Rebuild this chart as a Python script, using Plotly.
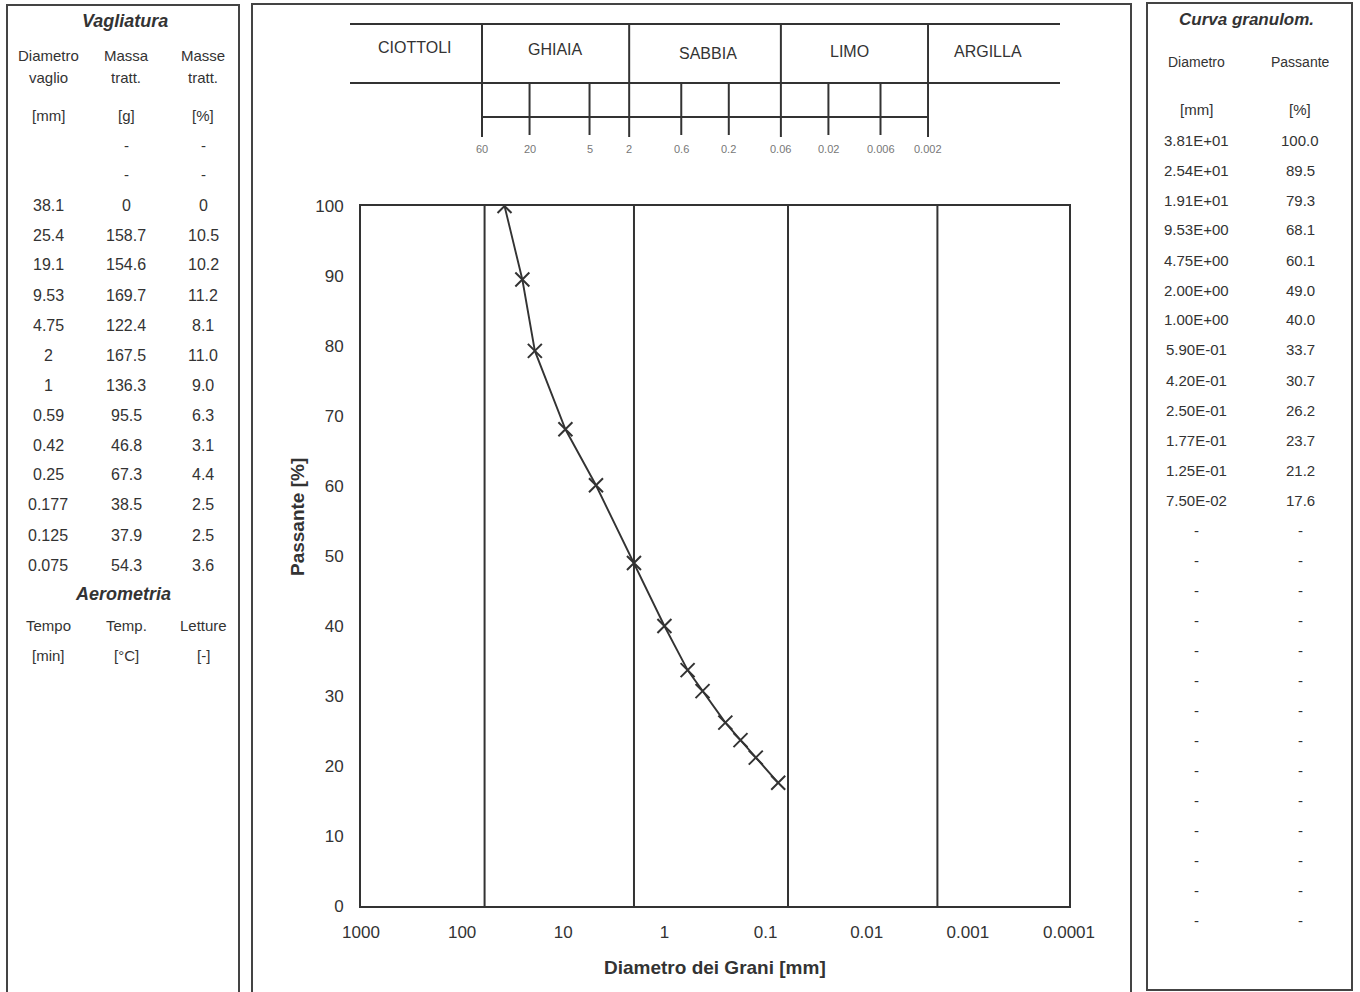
import math
import plotly.graph_objects as go

# ---------------- data ----------------
sieve_mm = ["38.1", "25.4", "19.1", "9.53", "4.75", "2", "1", "0.59", "0.42", "0.25", "0.177", "0.125", "0.075"]
mass_g = [0, 158.7, 154.6, 169.7, 122.4, 167.5, 136.3, 95.5, 46.8, 67.3, 38.5, 37.9, 54.3]
mass_pct = [0, 10.5, 10.2, 11.2, 8.1, 11.0, 9.0, 6.3, 3.1, 4.4, 2.5, 2.5, 3.6]

diam_mm = [38.1, 25.4, 19.1, 9.53, 4.75, 2.00, 1.00, 0.59, 0.42, 0.25, 0.177, 0.125, 0.075]
passing_pct = [100.0, 89.5, 79.3, 68.1, 60.1, 49.0, 40.0, 33.7, 30.7, 26.2, 23.7, 21.2, 17.6]

x_tickvals = [1000, 100, 10, 1, 0.1, 0.01, 0.001, 0.0001]
x_ticktext = ["1000", "100", "10", "1", "0.1", "0.01", "0.001", "0.0001"]
y_tickvals = [0, 10, 20, 30, 40, 50, 60, 70, 80, 90, 100]

class_limits = [60, 2, 0.06, 0.002]
class_names = ["CIOTTOLI", "GHIAIA", "SABBIA", "LIMO", "ARGILLA"]
sub_ticks = [60, 20, 5, 2, 0.6, 0.2, 0.06, 0.02, 0.006, 0.002]
sub_tick_labels = ["60", "20", "5", "2", "0.6", "0.2", "0.06", "0.02", "0.006", "0.002"]

W, H = 1360, 992
FONT = "Liberation Sans, Arial, sans-serif"
INK = "#333333"


def px(x):
    return x / W


def py(y):
    return 1 - y / H


fig = go.Figure()

fig.add_trace(go.Scatter(
    x=diam_mm, y=passing_pct, mode="lines+markers",
    line=dict(color=INK, width=1.9),
    marker=dict(symbol="x-thin", size=14, line=dict(color=INK, width=2), color=INK),
    showlegend=False, hoverinfo="x+y",
))
# invisible trace to instantiate the header scale axis
fig.add_trace(go.Scatter(x=[1], y=[0], xaxis="x2", yaxis="y", mode="markers",
                         marker=dict(opacity=0), showlegend=False, hoverinfo="skip"))

shapes = []
annotations = []

# panel borders
for (x0, y0, x1, y1) in [(7, 5, 239, 1000), (252, 4, 1131, 1000), (1147, 3, 1352, 990)]:
    shapes.append(dict(type="rect", xref="paper", yref="paper",
                       x0=px(x0), x1=px(x1), y0=py(y1), y1=py(y0),
                       line=dict(color="#444", width=2)))

# vertical class limits in the plot
for v in class_limits:
    shapes.append(dict(type="line", xref="x", yref="y", x0=v, x1=v, y0=0, y1=100,
                       line=dict(color=INK, width=2)))

# header table (classification)
shapes.append(dict(type="line", xref="paper", yref="paper", x0=px(350), x1=px(1060),
                   y0=py(24), y1=py(24), line=dict(color=INK, width=2)))
shapes.append(dict(type="line", xref="paper", yref="paper", x0=px(350), x1=px(1060),
                   y0=py(83), y1=py(83), line=dict(color=INK, width=2)))
shapes.append(dict(type="line", xref="x2", yref="paper", x0=class_limits[0], x1=class_limits[-1],
                   y0=py(117), y1=py(117), line=dict(color=INK, width=2)))
for v in class_limits:
    shapes.append(dict(type="line", xref="x2", yref="paper", x0=v, x1=v,
                       y0=py(137), y1=py(24), line=dict(color=INK, width=2)))
for v in sub_ticks:
    if v not in class_limits:
        shapes.append(dict(type="line", xref="x2", yref="paper", x0=v, x1=v,
                           y0=py(135), y1=py(83), line=dict(color=INK, width=2)))
for v, t in zip(sub_ticks, sub_tick_labels):
    annotations.append(dict(x=math.log10(v), xref="x2", y=py(149), yref="paper", text=t,
                            showarrow=False, xanchor="center", yanchor="middle",
                            font=dict(family=FONT, size=11, color="#777")))

name_pos = [(415, 48), (555, 49), (708, 53), (849, 52), (988, 52)]
for name, (xx, yy) in zip(class_names, name_pos):
    annotations.append(dict(x=px(xx), y=py(yy), xref="paper", yref="paper", text=name,
                            showarrow=False, xanchor="center", yanchor="middle",
                            font=dict(family=FONT, size=16, color=INK)))

# axis titles
annotations.append(dict(x=px(715), y=py(967), xref="paper", yref="paper",
                        text="<b>Diametro dei Grani [mm]</b>", showarrow=False,
                        xanchor="center", yanchor="middle",
                        font=dict(family=FONT, size=19, color=INK)))
annotations.append(dict(x=px(297), y=py(517), xref="paper", yref="paper",
                        text="<b>Passante [%]</b>", showarrow=False, textangle=-90,
                        xanchor="center", yanchor="middle",
                        font=dict(family=FONT, size=19, color=INK)))


def txt(x, y, s, size=16, bold=False, italic=False, color=INK):
    if bold:
        s = "<b>" + s + "</b>"
    if italic:
        s = "<i>" + s + "</i>"
    annotations.append(dict(x=px(x), y=py(y), xref="paper", yref="paper", text=s,
                            showarrow=False, xanchor="center", yanchor="middle",
                            font=dict(family=FONT, size=size, color=color)))


# left table: Vagliatura
LC = [48, 126, 203]
txt(125, 21, "Vagliatura", size=18, bold=True, italic=True)
for row, yy in [(["Diametro", "Massa", "Masse"], 56), (["vaglio", "tratt.", "tratt."], 77),
                (["[mm]", "[g]", "[%]"], 115), (["", "-", "-"], 145), (["", "-", "-"], 175)]:
    for xx, s in zip(LC, row):
        txt(xx, yy, s, size=15)
for i, (d, m, p) in enumerate(zip(sieve_mm, mass_g, mass_pct)):
    yy = 205 + 30 * i
    txt(LC[0], yy, d)
    txt(LC[1], yy, f"{m:g}" if m == 0 else f"{m:.1f}")
    txt(LC[2], yy, f"{p:g}" if p == 0 else f"{p:.1f}")
txt(123, 594, "Aerometria", size=18, bold=True, italic=True)
for row, yy in [(["Tempo", "Temp.", "Letture"], 625), (["[min]", "[°C]", "[-]"], 655)]:
    for xx, s in zip(LC, row):
        txt(xx, yy, s, size=15)

# right table: Curva granulometrica
RC = [1196, 1300]
txt(1246, 19, "Curva granulom.", size=17, bold=True, italic=True)
txt(RC[0], 62, "Diametro", size=14)
txt(RC[1], 62, "Passante", size=14)
txt(RC[0], 110, "[mm]", size=15)
txt(RC[1], 110, "[%]", size=15)
for i, (d, p) in enumerate(zip(diam_mm, passing_pct)):
    yy = 140 + 30 * i
    txt(RC[0], yy, f"{d:.2E}", size=15)
    txt(RC[1], yy, f"{p:.1f}", size=15)
for j in range(14):
    yy = 530 + 30 * j
    txt(RC[0], yy, "-", size=15)
    txt(RC[1], yy, "-", size=15)

fig.update_layout(
    template="none",
    width=W, height=H,
    margin=dict(l=0, r=0, t=0, b=0, pad=0, autoexpand=False),
    paper_bgcolor="white", plot_bgcolor="white",
    font=dict(family=FONT, color=INK),
    showlegend=False,
    shapes=shapes,
    annotations=annotations,
    xaxis=dict(
        type="log", range=[3, -4], domain=[px(361), px(1069)],
        tickvals=x_tickvals, ticktext=x_ticktext, ticks="",
        tickfont=dict(family=FONT, size=17, color=INK),
        showgrid=False, zeroline=False, automargin=False,
        showline=True, linecolor=INK, linewidth=2, mirror=True,
        ticklabelstandoff=10,
    ),
    xaxis2=dict(
        type="log", range=[2.993, -4.114], overlaying="x", visible=False,
        showgrid=False, zeroline=False, automargin=False,
    ),
    yaxis=dict(
        range=[0, 100], domain=[py(906), py(206)],
        tickvals=y_tickvals, ticks="",
        tickfont=dict(family=FONT, size=17, color=INK),
        showgrid=False, zeroline=False, automargin=False,
        showline=True, linecolor=INK, linewidth=2, mirror=True,
        ticklabelstandoff=12,
    ),
)

fig.write_html(
    "out.html",
    config={"displayModeBar": False},
    post_script="document.documentElement.style.margin='0';document.body.style.margin='0';"
                "document.body.style.overflow='hidden';",
)
